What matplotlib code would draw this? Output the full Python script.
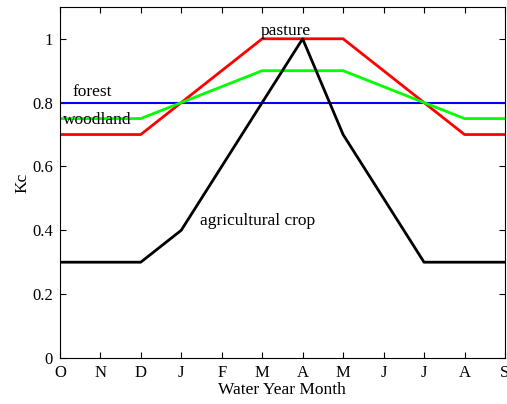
import matplotlib.pyplot as plt
import numpy as np

months = ['O', 'N', 'D', 'J', 'F', 'M', 'A', 'M', 'J', 'J', 'A', 'S']
forest = [0.8] * 12
pasture = [0.7, 0.7, 0.7, 0.8, 0.9, 1.0, 1.0, 1.0, 0.9, 0.8, 0.7, 0.7]
woodland = [0.75, 0.75, 0.75, 0.8, 0.85, 0.9, 0.9, 0.9, 0.85, 0.8, 0.75, 0.75]
crop = [0.3, 0.3, 0.3, 0.4, 0.6, 0.8, 1.0, 0.7, 0.5, 0.3, 0.3, 0.3]

plt.rcParams['font.family'] = ['Liberation Serif', 'DejaVu Serif']

fig = plt.figure(figsize=(5.07, 4.04), dpi=100)
ax = fig.add_axes([0.118, 0.114, 0.878, 0.869])
x = np.arange(len(months))

ax.plot(x, forest, color='#0000ff', lw=1.5)
ax.plot(x, pasture, color='#ff0000', lw=2)
ax.plot(x, woodland, color='#00ff00', lw=2)
ax.plot(x, crop, color='black', lw=2)

ax.text(0.32, 0.808, 'forest', fontsize=12.5, ha='left', va='bottom')
ax.text(0.08, 0.745, 'woodland', fontsize=12.5, ha='left', va='center')
ax.text(5.59, 1.0, 'pasture', fontsize=12.5, ha='center', va='bottom')
ax.text(3.46, 0.43, 'agricultural crop', fontsize=12.5, ha='left', va='center')

ax.set_xlim(0, 11)
ax.set_ylim(0, 1.1)
ax.set_xticks(x)
ax.set_xticklabels(months)
ax.set_yticks([0, 0.2, 0.4, 0.6, 0.8, 1.0])
ax.set_yticklabels(['0', '0.2', '0.4', '0.6', '0.8', '1'])
ax.tick_params(direction='in', top=True, right=True, labelsize=12, length=4, pad=5)
ax.set_xlabel('Water Year Month', fontsize=12.5, labelpad=1)
ax.set_ylabel('Kc', fontsize=12.5, labelpad=1)

fig.savefig('out.png', dpi=100)
